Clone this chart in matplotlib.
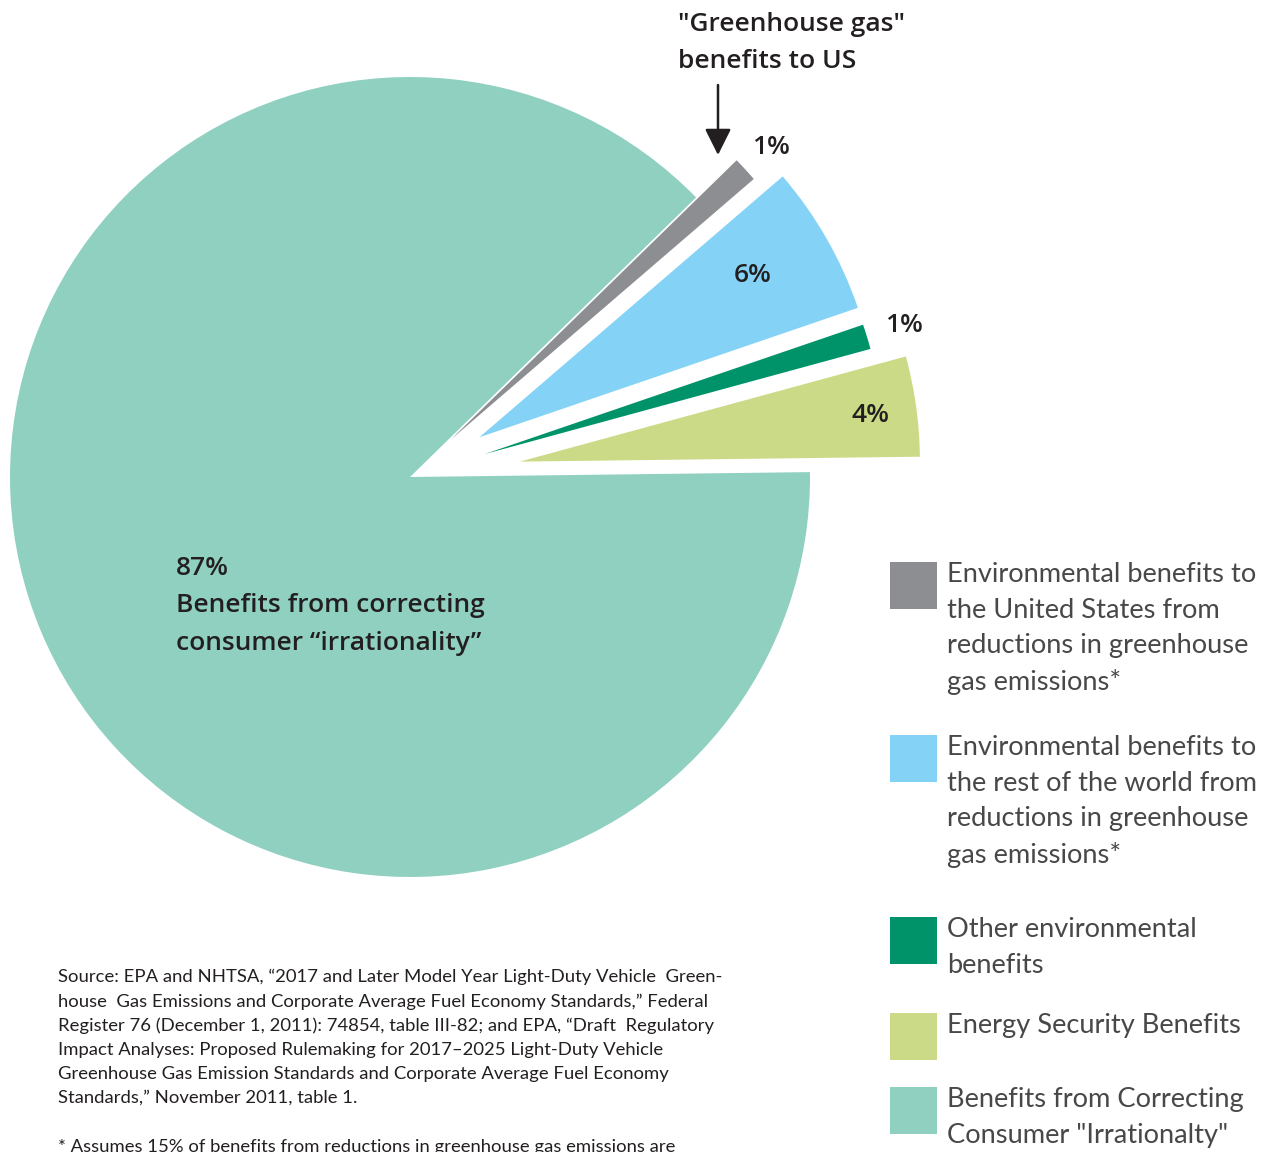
import matplotlib
matplotlib.use("Agg")
import matplotlib.pyplot as plt

# ---- data ----
categories = [
    "Energy Security Benefits",
    "Other environmental benefits",
    "Environmental benefits to the rest of the world",
    "Environmental benefits to the United States",
    "Benefits from Correcting Consumer Irrationality",
]
values = [4, 1, 6, 1, 87]
colors = ["#CBDA87", "#00936A", "#84D3F7", "#8D8E91", "#8FD0C0"]
explode_px = [111, 78, 80, 55, 0]
pct_labels = ["4%", "1%", "6%", "1%", "87%"]

legend_labels = [
    "Environmental benefits to\nthe United States from\nreductions in greenhouse\ngas emissions*",
    "Environmental benefits to\nthe rest of the world from\nreductions in greenhouse\ngas emissions*",
    "Other environmental\nbenefits",
    "Energy Security Benefits",
    "Benefits from Correcting\nConsumer \"Irrationalty\"",
]
legend_colors = ["#8D8E91", "#84D3F7", "#00936A", "#CBDA87", "#8FD0C0"]

W, H = 1268, 1152
TXT = "#231F20"
LEG = "#48484a"

fig = plt.figure(figsize=(W / 100, H / 100), dpi=100)
ax = fig.add_axes([0, 0, 1, 1])

R = 400
cx, cy = 410, H - 477
ax.pie(values, colors=colors, startangle=0.7, counterclock=True,
       radius=R, center=(cx, cy), explode=explode_px,
       wedgeprops=dict(linewidth=0), frame=True)
ax.set_xlim(0, W)
ax.set_ylim(0, H)
ax.set_aspect("equal")
ax.axis("off")

def P(x, y):
    return x, H - y

lab = dict(fontfamily="Open Sans", fontweight="semibold", color=TXT)

# slice percentage labels
ax.text(*P(870, 415), pct_labels[0], fontsize=19, ha="center", va="center", **lab)
ax.text(*P(904, 325), pct_labels[1], fontsize=19, ha="center", va="center", **lab)
ax.text(*P(753, 275), pct_labels[2], fontsize=19, ha="center", va="center", **lab)
ax.text(*P(771, 147), pct_labels[3], fontsize=19, ha="center", va="center", **lab)

ax.text(*P(176, 606), pct_labels[4] + "\nBenefits from correcting\nconsumer \u201cirrationality\u201d",
        fontsize=19, ha="left", va="center", linespacing=1.68, **lab)

ax.text(*P(678, 43), "\"Greenhouse gas\"\nbenefits to US", fontsize=19,
        ha="left", va="center", linespacing=1.62, **lab)
ax.annotate("", xy=P(718, 155), xytext=P(718, 85),
            arrowprops=dict(arrowstyle="-|>,head_width=0.8,head_length=1.6",
                            color=TXT, lw=1.8, shrinkA=0, shrinkB=0))

# legend
leg_tops = [562, 735, 917, 1013, 1087]
for lbl, col, top in zip(legend_labels, legend_colors, leg_tops):
    ax.add_patch(plt.Rectangle(P(890, top + 47), 47, 47, facecolor=col,
                               edgecolor="none"))
    ax.text(*P(947, top), lbl, fontsize=19.6, ha="left", va="top",
            fontfamily="Lato", fontweight="normal", color=LEG, linespacing=1.53)

src = ("Source: EPA and NHTSA, \u201c2017 and Later Model Year Light-Duty Vehicle  Green-\n"
       "house  Gas Emissions and Corporate Average Fuel Economy Standards,\u201d Federal\n"
       "Register 76 (December 1, 2011): 74854, table III-82; and EPA, \u201cDraft  Regulatory\n"
       "Impact Analyses: Proposed Rulemaking for 2017\u20132025 Light-Duty Vehicle\n"
       "Greenhouse Gas Emission Standards and Corporate Average Fuel Economy\n"
       "Standards,\u201d November 2011, table 1.")
ax.text(*P(58, 969), src, fontsize=13.3, ha="left", va="top",
        fontfamily="Lato", color=TXT, linespacing=1.6)
ax.text(*P(58, 1139), "* Assumes 15% of benefits from reductions in greenhouse gas emissions are",
        fontsize=13.3, ha="left", va="top", fontfamily="Lato", color=TXT)

fig.savefig("out.png", dpi=100)
